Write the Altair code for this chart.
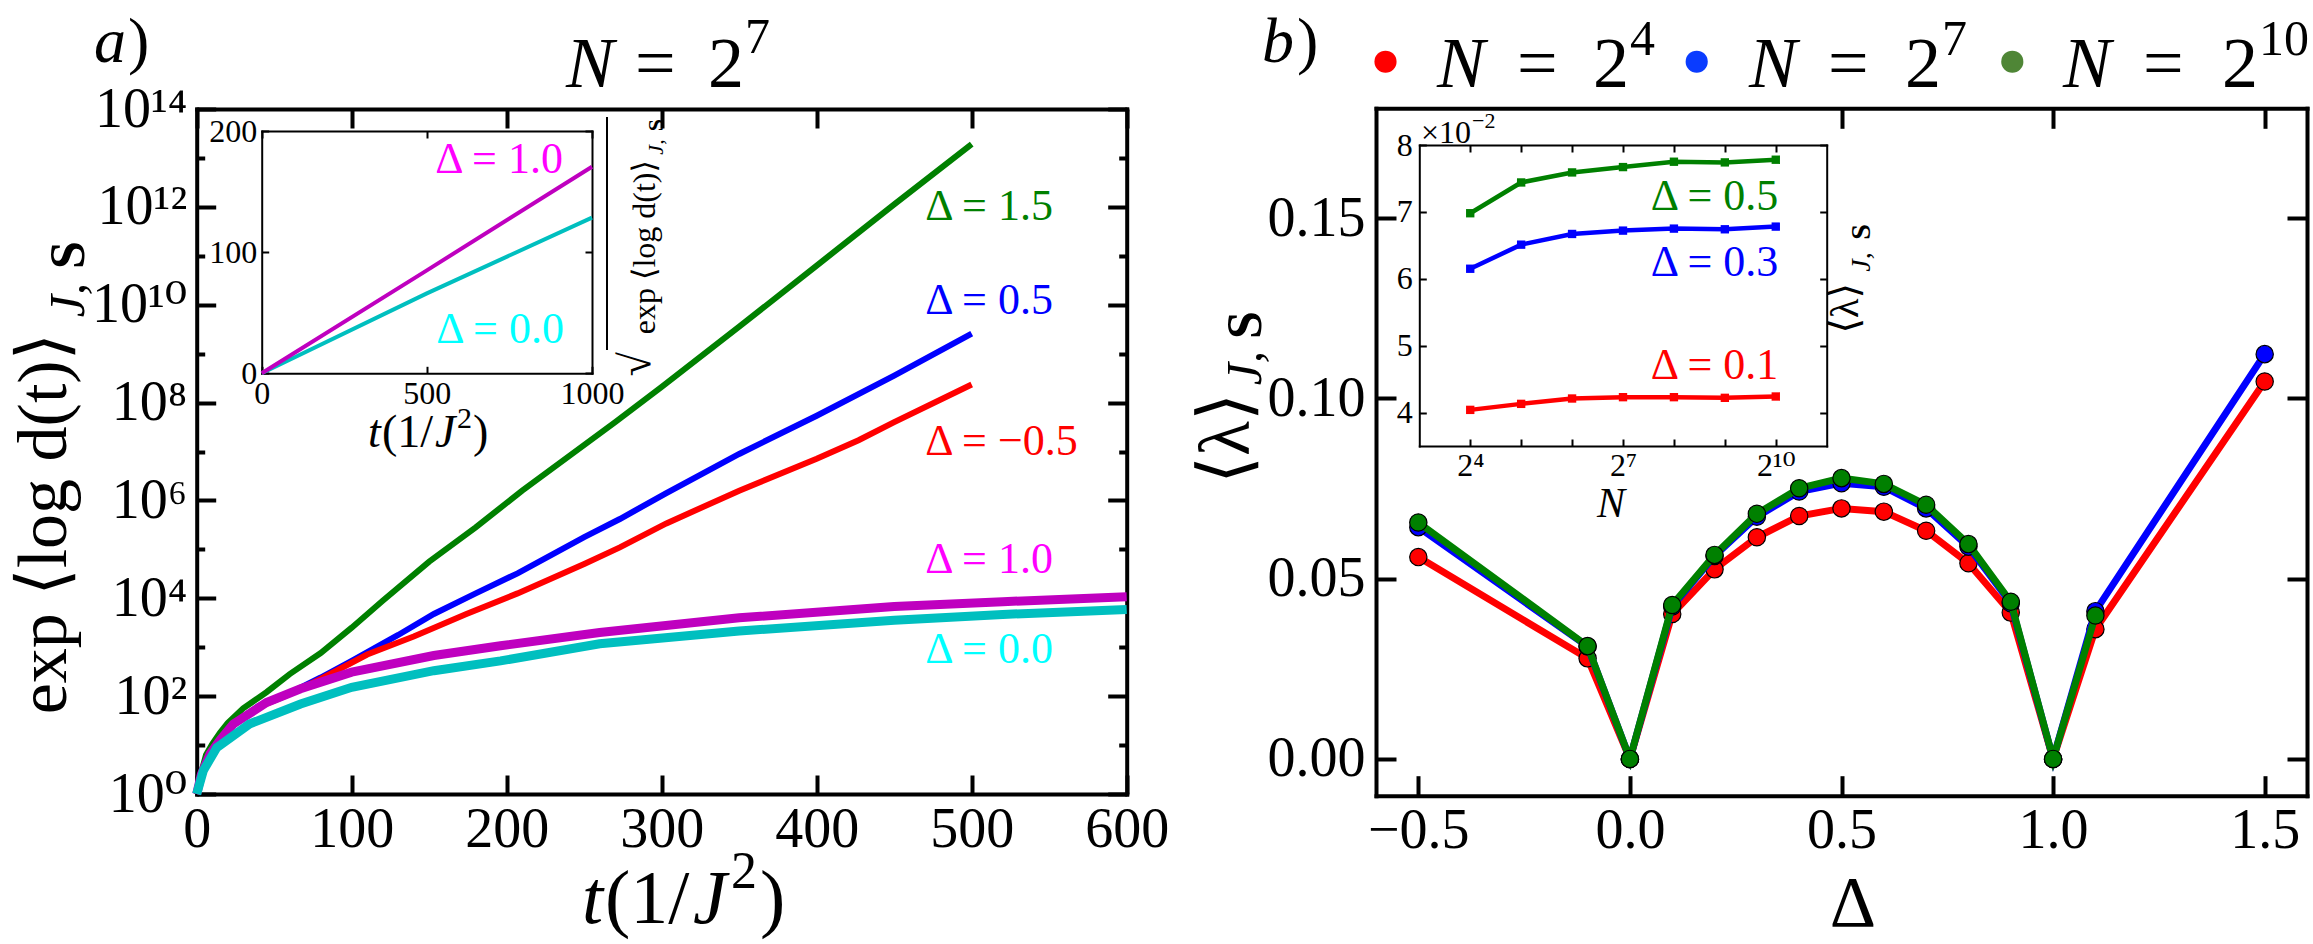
import altair as alt
import pandas as pd

W, H = 2313, 944
FONT = "Liberation Serif, DejaVu Serif, serif"
SUP = str.maketrans("0123456789-", "⁰¹²³⁴⁵⁶⁷⁸⁹⁻")

# ---------------- panel a: exp<log d(t)> vs t for N = 2^7 (log10 of the value) ----------------
t_15 = [0, 3, 6, 10, 15, 20, 30, 45, 60, 80, 100, 120, 150, 180, 210, 240, 270, 300, 350, 400, 450, 500]
lg_15 = [0, 0.45, 0.8, 1.02, 1.25, 1.45, 1.75, 2.08, 2.45, 2.88, 3.4, 3.95, 4.75, 5.45, 6.2, 6.9, 7.6,
         8.32, 9.55, 10.8, 12.05, 13.28]
t_05 = [0, 3, 8.6, 15, 23.6, 40, 56, 80, 100, 130, 153, 180, 207, 250, 273, 303, 350, 400, 450, 500]
lg_05 = [0, 0.4, 0.82, 1.1, 1.43, 1.8, 2.0, 2.38, 2.72, 3.25, 3.68, 4.1, 4.51, 5.25, 5.62, 6.15, 6.95,
         7.73, 8.55, 9.41]
t_m05 = [0, 3, 8.6, 15, 23.6, 40, 56, 80, 110, 140, 174, 207, 250, 273, 303, 350, 400, 427, 450, 500]
lg_m05 = [0, 0.4, 0.82, 1.1, 1.43, 1.78, 1.99, 2.35, 2.85, 3.22, 3.68, 4.1, 4.7, 5.04, 5.53, 6.2, 6.85,
          7.23, 7.6, 8.37]
t_10 = [0, 3, 8.6, 15, 23.6, 45, 67, 100, 153, 196, 260, 350, 450, 520, 600]
lg_10 = [0, 0.4, 0.82, 1.1, 1.43, 1.87, 2.15, 2.49, 2.83, 3.03, 3.30, 3.6, 3.83, 3.93, 4.03]
t_00 = [0, 4.3, 13, 34, 67, 100, 153, 196, 260, 350, 450, 520, 600]
lg_00 = [0, 0.48, 0.95, 1.43, 1.84, 2.18, 2.52, 2.72, 3.07, 3.33, 3.55, 3.67, 3.77]

# inset a: sqrt(exp<log d(t)>) vs t
t_in = [0, 500, 1000]
sq_10 = [0, 85, 170.5]
sq_00 = [0, 66, 128.5]

# ---------------- panel b: <lambda> vs Delta ----------------
delta = [-0.5, -0.1, 0.0, 0.1, 0.2, 0.3, 0.4, 0.5, 0.6, 0.7, 0.8, 0.9, 1.0, 1.1, 1.5]
lam_n4 = [0.0560, 0.0279, 0.0, 0.0402, 0.0526, 0.0615, 0.0674, 0.0695, 0.0686, 0.0633, 0.0543,
          0.0406, 0.0, 0.0360, 0.1047]
lam_n7 = [0.0643, 0.0312, 0.0, 0.0423, 0.0563, 0.0672, 0.0742, 0.0765, 0.0755, 0.0695, 0.0589,
          0.0432, 0.0, 0.0410, 0.1123]
delta_n10 = delta[:-1]
lam_n10 = [0.0656, 0.0313, 0.0, 0.0427, 0.0566, 0.0680, 0.0751, 0.0779, 0.0763, 0.0705, 0.0596,
           0.0436, 0.0, 0.0398]

# inset b: <lambda> vs log2 N
log2n = [4, 5, 6, 7, 8, 9, 10]
lam_d05 = [0.0698, 0.0744, 0.0759, 0.0767, 0.0775, 0.0774, 0.0778]
lam_d03 = [0.0615, 0.0651, 0.0667, 0.0672, 0.0675, 0.0674, 0.0678]
lam_d01 = [0.0404, 0.0413, 0.0421, 0.0423, 0.0423, 0.0422, 0.0424]

# ---------------- plot boxes: (domain, pixel range, log?) ----------------
PANEL_A = {"x": ([0, 600], [196.7, 1126.7], False), "y": ([1, 1e14], [794, 109], True)}
INSET_A = {"x": ([0, 1000], [261.7, 592], False), "y": ([0, 200], [373.3, 131], False)}
PANEL_B = {"x": ([-0.6, 1.6], [1376, 2307], False), "y": ([-0.0102, 0.1805], [795.7, 108.3], False)}
INSET_B = {"x": ([3, 11], [1419.3, 1826.7], False), "y": ([0.035, 0.08], [446, 145], False)}


def scale(spec):
    dom, rng, log = spec
    if log:
        return alt.Scale(type="log", domain=dom, range=rng, nice=False)
    return alt.Scale(domain=dom, range=rng, nice=False, zero=False)


def X(field, box):
    return alt.X(field, scale=scale(box["x"]), axis=None)


def Y(field, box):
    return alt.Y(field, scale=scale(box["y"]), axis=None)


def axis(orient, offset, values, *, labels=False, ticks=True, domain=True, size=20, lw=4,
         fs=56, pad=10, fmt=None, expr=None):
    kw = dict(orient=orient, offset=offset, values=values, title=None, grid=False,
              labels=labels, ticks=ticks, domain=domain,
              domainColor="black", domainWidth=lw, domainCap="square",
              tickColor="black", tickWidth=lw, tickSize=size,
              labelFont=FONT, labelFontSize=fs, labelColor="black", labelPadding=pad,
              labelBaseline="middle", labelOverlap=False, labelFlush=False)
    if fmt:
        kw["format"] = fmt
    if expr:
        kw["labelExpr"] = expr
    return alt.Axis(**kw)


def guide(box, xaxis, yaxis):
    (xd, _, _), (yd, _, ylog) = box["x"], box["y"]
    ym = (yd[0] * yd[1]) ** 0.5 if ylog else (yd[0] + yd[1]) / 2
    d = pd.DataFrame({"gx": [(xd[0] + xd[1]) / 2], "gy": [ym]})
    return alt.Chart(d).mark_point(opacity=0).encode(
        x=alt.X("gx:Q", scale=scale(box["x"]), axis=xaxis),
        y=alt.Y("gy:Q", scale=scale(box["y"]), axis=yaxis),
    )


def frame(box, xt, yt, *, xlab, ylab, xt_top=None, yminor=None, size=20, minor=8, lw=4,
          fs=56, xpad=35, ypad=10, xfmt=None, yfmt=None, xexpr=None, yexpr=None):
    """Labelled box with inward ticks on all four sides."""
    x0, x1 = box["x"][1]
    yb, ytop = box["y"][1]
    out = [
        guide(box,
              axis("bottom", yb - H, xlab, labels=True, ticks=False, domain=False, fs=fs,
                   pad=xpad, fmt=xfmt, expr=xexpr),
              axis("left", -x0, ylab, labels=True, ticks=False, domain=False, fs=fs,
                   pad=ypad, fmt=yfmt, expr=yexpr)),
        guide(box, axis("top", -yb, xt, size=size, lw=lw),
              axis("right", x0 - W, yt, size=size, lw=lw)),
        guide(box, axis("bottom", ytop - H, xt if xt_top is None else xt_top, size=size, lw=lw),
              axis("left", -x1, yt, size=size, lw=lw)),
    ]
    if yminor:
        out.append(guide(box, None, axis("right", x0 - W, yminor, size=minor, lw=lw, domain=False)))
        out.append(guide(box, None, axis("left", -x1, yminor, size=minor, lw=lw, domain=False)))
    return out


ONE = pd.DataFrame({"k": [0]})


def txt(s, x, y, size, style="normal", weight="normal", align="left", angle=0, color="black"):
    return alt.Chart(ONE).mark_text(
        text=s, font=FONT, fontSize=size, fontStyle=style, fontWeight=weight,
        align=align, baseline="alphabetic", angle=angle, color=color,
    ).encode(x=alt.value(x), y=alt.value(y))


layers = []

# ---------------- panel a ----------------
pow_expr = " : ".join(
    f"round(log(datum.value)/LN10) == {k} ? '10{str(k).translate(SUP)}'" for k in range(0, 15, 2)
) + " : ''"
layers += frame(PANEL_A, [0, 100, 200, 300, 400, 500, 600], [10.0 ** k for k in range(0, 15, 2)],
                xlab=[0, 100, 200, 300, 400, 500, 600], ylab=[10.0 ** k for k in range(0, 15, 2)],
                yminor=[10.0 ** k for k in range(1, 15, 2)], size=19, minor=8, lw=4, fs=56,
                xpad=35, ypad=10, xfmt="d", yexpr=pow_expr)

series_a = [("Δ = 1.5", t_15, lg_15), ("Δ = 0.5", t_05, lg_05), ("Δ = −0.5", t_m05, lg_m05),
            ("Δ = 1.0", t_10, lg_10), ("Δ = 0.0", t_00, lg_00)]
rows = []
for name, ts, lgs in series_a:
    for t, lg in zip(ts, lgs):
        rows.append({"series": name, "t": t, "v": 10.0 ** lg})
df_a = pd.DataFrame(rows)
names_a = [s[0] for s in series_a]
line_cols_a = ["#008000", "#0000ff", "#ff0000", "#bf00bf", "#00bfbf"]
text_cols_a = ["#008000", "#0000ff", "#ff0000", "#ff00ff", "#00ffff"]

thin = df_a[df_a.series.isin(names_a[:3])]
thick = df_a[df_a.series.isin(names_a[3:])]
layers.append(alt.Chart(thin).mark_line(strokeWidth=6).encode(
    x=X("t:Q", PANEL_A), y=Y("v:Q", PANEL_A),
    color=alt.Color("series:N", scale=alt.Scale(domain=names_a[:3], range=line_cols_a[:3]), legend=None)))
layers.append(alt.Chart(thick).mark_line(strokeWidth=9).encode(
    x=X("t:Q", PANEL_A), y=Y("v:Q", PANEL_A),
    color=alt.Color("series:N", scale=alt.Scale(domain=names_a[4:] + names_a[3:4],
                                                range=line_cols_a[4:] + line_cols_a[3:4]), legend=None)))

# curve annotations, anchored in data units
lab_a = pd.DataFrame({"series": names_a, "t": [470] * 5,
                      "v": [10 ** 12.0, 10 ** 10.07, 10 ** 7.19, 10 ** 4.78, 10 ** 2.94]})
layers.append(alt.Chart(lab_a).mark_text(font=FONT, fontSize=44, align="left", baseline="middle").encode(
    x=X("t:Q", PANEL_A), y=Y("v:Q", PANEL_A), text="series:N",
    color=alt.Color("series:N", scale=alt.Scale(domain=names_a, range=text_cols_a), legend=None)))

# inset a
layers += frame(INSET_A, [0, 500, 1000], [0, 100, 200], xlab=[0, 500, 1000], ylab=[0, 100, 200],
                size=7, lw=2, fs=32, xpad=20, ypad=5, xfmt="d", yfmt="d")
rows = []
for name, vals in [("Δ = 0.0", sq_00), ("Δ = 1.0", sq_10)]:
    for t, v in zip(t_in, vals):
        rows.append({"series": name, "t": t, "v": v})
layers.append(alt.Chart(pd.DataFrame(rows)).mark_line(strokeWidth=4).encode(
    x=X("t:Q", INSET_A), y=Y("v:Q", INSET_A),
    color=alt.Color("series:N", scale=alt.Scale(domain=["Δ = 0.0", "Δ = 1.0"],
                                                range=["#00bfbf", "#bf00bf"]), legend=None)))
lab_ai = pd.DataFrame({"series": ["Δ = 1.0", "Δ = 0.0"], "t": [912, 915], "v": [176, 35.8]})
layers.append(alt.Chart(lab_ai).mark_text(font=FONT, fontSize=44, align="right", baseline="middle").encode(
    x=X("t:Q", INSET_A), y=Y("v:Q", INSET_A), text="series:N",
    color=alt.Color("series:N", scale=alt.Scale(domain=["Δ = 1.0", "Δ = 0.0"],
                                                range=["#ff00ff", "#00ffff"]), legend=None)))

# panel a text
layers += [
    txt("a", 94, 62, 64, style="italic"), txt(")", 128, 62, 64),
    txt("N", 566, 87, 72, style="italic"), txt("=", 635, 87, 72), txt("2", 708, 87, 72),
    txt("7", 745, 53, 50),
    txt("exp ⟨log d(t)⟩", 66, 333, 70, align="right", angle=270),
    txt("J,", 84, 300, 50, style="italic", align="center", angle=270),
    txt("S", 84, 255, 50, weight="bold", align="center", angle=270),
    txt("t", 582, 923, 76, style="italic"), txt("(1/", 605, 923, 76),
    txt("J", 693, 923, 76, style="italic"), txt("2", 731, 888, 52), txt(")", 760, 923, 76),
    # inset a titles
    txt("t", 368, 447, 46, style="italic"), txt("(1/", 382, 447, 46),
    txt("J", 435, 447, 46, style="italic"), txt("2", 457, 428, 30), txt(")", 473, 447, 46),
    txt("exp ⟨log d(t)⟩", 655, 160, 32, align="right", angle=270),
    txt("J,", 663, 147, 22, style="italic", align="center", angle=270),
    txt("S", 663, 125, 22, weight="bold", align="center", angle=270),
    txt("√", 650, 352, 44, align="right", angle=270),
]
layers.append(alt.Chart(ONE).mark_rule(color="black", strokeWidth=2).encode(
    x=alt.value(607), y=alt.value(117), y2=alt.value(350)))

# ---------------- panel b ----------------
layers += frame(PANEL_B, [-0.5, 0, 0.5, 1, 1.5], [0, 0.05, 0.1, 0.15],
                xlab=[-0.5, 0, 0.5, 1, 1.5], ylab=[0, 0.05, 0.1, 0.15], xt_top=[0.5, 1, 1.5],
                size=20, lw=4, fs=56, xpad=35, ypad=11, xfmt=".1f", yfmt=".2f")

for xs, ys, col in [(delta, lam_n4, "#ff0000"), (delta, lam_n7, "#0000ff"), (delta_n10, lam_n10, "#008000")]:
    d = pd.DataFrame({"delta": xs, "lam": ys})
    layers.append(alt.Chart(d).mark_line(strokeWidth=7, color=col).encode(
        x=X("delta:Q", PANEL_B), y=Y("lam:Q", PANEL_B)))
    layers.append(alt.Chart(d).mark_circle(size=300, color=col, opacity=1, stroke="black",
                                           strokeWidth=1.2).encode(
        x=X("delta:Q", PANEL_B), y=Y("lam:Q", PANEL_B)))

# inset b
layers += frame(INSET_B, [4, 5, 6, 7, 8, 9, 10], [0.04, 0.05, 0.06, 0.07, 0.08],
                xlab=[4, 7, 10], ylab=[0.04, 0.05, 0.06, 0.07, 0.08], size=7, lw=2, fs=32,
                xpad=19, ypad=7,
                xexpr="datum.value == 4 ? '2⁴' : datum.value == 7 ? '2⁷' : '2¹⁰'",
                yexpr="format(datum.value * 100, '.0f')")
for ys, col in [(lam_d01, "#ff0000"), (lam_d03, "#0000ff"), (lam_d05, "#008000")]:
    d = pd.DataFrame({"n": log2n, "lam": ys})
    layers.append(alt.Chart(d).mark_line(strokeWidth=4.5, color=col).encode(
        x=X("n:Q", INSET_B), y=Y("lam:Q", INSET_B)))
    layers.append(alt.Chart(d).mark_square(size=70, color=col, opacity=1).encode(
        x=X("n:Q", INSET_B), y=Y("lam:Q", INSET_B)))
lab_bi = pd.DataFrame({"series": ["Δ = 0.5", "Δ = 0.3", "Δ = 0.1"], "n": [10.05] * 3,
                       "lam": [0.0723, 0.0623, 0.0469]})
layers.append(alt.Chart(lab_bi).mark_text(font=FONT, fontSize=44, align="right", baseline="middle").encode(
    x=X("n:Q", INSET_B), y=Y("lam:Q", INSET_B), text="series:N",
    color=alt.Color("series:N", scale=alt.Scale(domain=["Δ = 0.5", "Δ = 0.3", "Δ = 0.1"],
                                                range=["#008000", "#0000ff", "#ff0000"]), legend=None)))

# legend of panel b
for cx, col in [(1385.5, "#ff0000"), (1696.7, "#0a3cff"), (2012.3, "#4f8636")]:
    layers.append(alt.Chart(ONE).mark_circle(size=490, color=col, opacity=1).encode(
        x=alt.value(cx), y=alt.value(61.7)))
for xn, xe, x2, xs, sup in [(1437, 1517, 1593, 1630, "4"), (1749, 1828, 1905, 1942, "7"),
                            (2063, 2143, 2222, 2259, "10")]:
    layers += [txt("N", xn, 87, 72, style="italic"), txt("=", xe, 87, 72), txt("2", x2, 87, 72),
               txt(sup, xs, 55, 50)]

# panel b text
layers += [
    txt("b", 1262, 62, 64, style="italic"), txt(")", 1297, 62, 64),
    txt("⟨λ⟩", 1249, 393, 72, align="right", angle=270),
    txt("J,", 1261, 368, 50, style="italic", align="center", angle=270),
    txt("S", 1261, 325, 50, weight="bold", align="center", angle=270),
    txt("Δ", 1853, 926, 72, align="center"),
    txt("N", 1611, 517, 42, style="italic", align="center"),
    txt("×10", 1421, 143, 32), txt("−2", 1472, 128, 22),
    txt("⟨λ⟩", 1858, 283, 40, align="right", angle=270),
    txt("J,", 1870, 262, 28, style="italic", align="center", angle=270),
    txt("S", 1870, 232, 28, weight="bold", align="center", angle=270),
]

chart = alt.layer(*layers).resolve_scale(
    x="independent", y="independent", color="independent"
).properties(
    width=W, height=H, autosize=alt.AutoSizeParams(type="none"), padding=0
).configure_view(strokeWidth=0)

chart.save("out.html", embed_options={"renderer": "svg", "actions": False})
